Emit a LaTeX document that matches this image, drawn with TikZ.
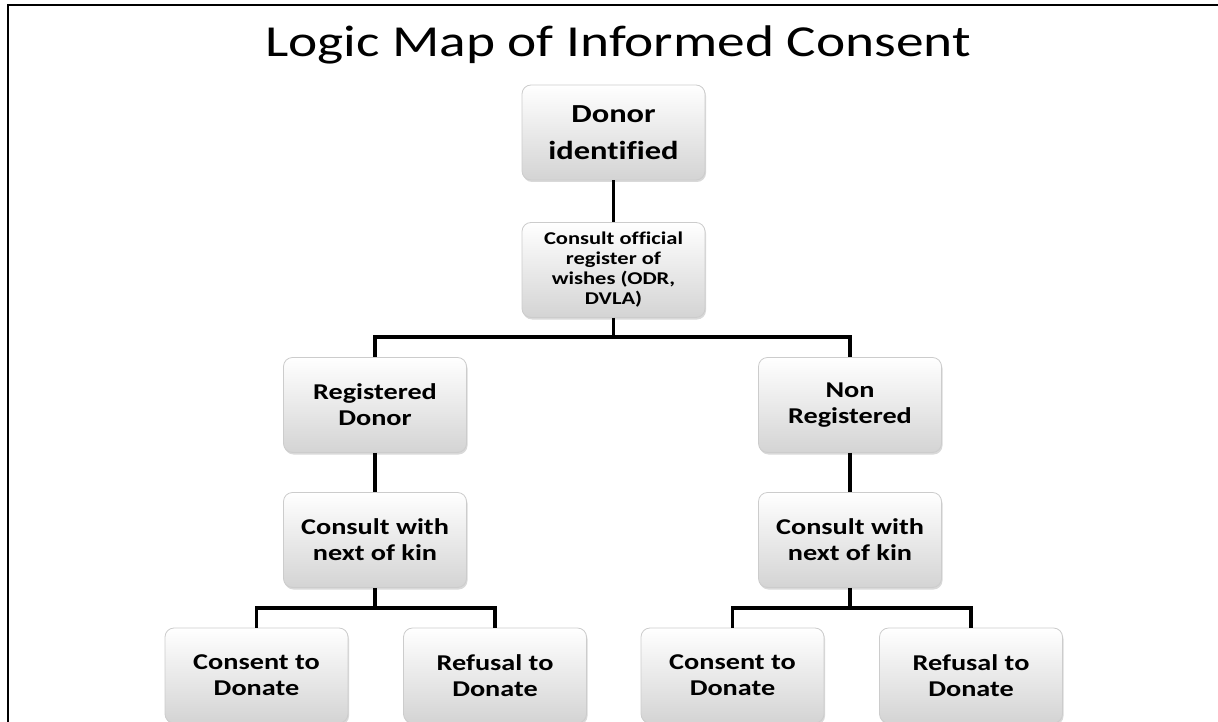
\documentclass[tikz,border=0pt]{standalone}
\usepackage{fontspec}
\setmainfont{Carlito}[FakeStretch=1.25, Ligatures=NoCommon]
\usetikzlibrary{shadows}
\tikzset{
	box/.style={rounded corners=9pt, minimum width=183pt, minimum height=95pt, inner sep=0pt, align=center,
		top color=white, middle color=gray!8, bottom color=gray!34, draw=gray!40, line width=0.8pt,
		drop shadow={opacity=0.3, shadow xshift=1pt, shadow yshift=-2pt}},
	txtbig/.style={font=\bfseries\fontsize{26}{37}\selectfont},
	txtmid/.style={font=\bfseries\fontsize{22.6}{26}\selectfont},
	txtsmall/.style={font=\bfseries\fontsize{18}{20}\selectfont},
	link/.style={line width=3.4pt},
}
\begin{document}
\begin{tikzpicture}[x=1pt,y=-1pt]
			\useasboundingbox (0,0) rectangle (1218,722);
			\draw [line width=2.5pt] (8,722) -- (8,5) -- (1218,5);
			\node [anchor=base, font=\fontsize{44.3}{50}\selectfont] (title) at (618,57) {Logic Map of Informed Consent};
			% top of the tree
			\node [box, txtbig] (donor) at (613.5,132.5) {Donor\\identified};
			\node [box, txtsmall] (odr) at (613.5,270) {Consult official\\register of\\wishes (ODR,\\DVLA)};
			\coordinate (split) at (613.5,337);
			% two branches
			\node [box, txtmid] (reg) at (375,405) {Registered\\Donor};
			\node [box, txtmid] (nonreg) at (850,405) {Non\\Registered};
			\node [box, txtmid] (kinL) at (375,540) {Consult with\\next of kin};
			\node [box, txtmid] (kinR) at (850,540) {Consult with\\next of kin};
			\coordinate (splitL) at (375,608);
			\coordinate (splitR) at (850,608);
			\node [box, txtmid] (yesL) at (256.5,675.5) {Consent to\\Donate};
			\node [box, txtmid] (noL) at (495,675.5) {Refusal to\\Donate};
			\node [box, txtmid] (yesR) at (732.5,675.5) {Consent to\\Donate};
			\node [box, txtmid] (noR) at (971,675.5) {Refusal to\\Donate};
			\draw [link] (donor) to (odr);
			\draw [link] (odr) to (split);
			\draw [link] (split) -| (reg);
			\draw [link] (split) -| (nonreg);
			\draw [link] (reg) to (kinL);
			\draw [link] (nonreg) to (kinR);
			\draw [link] (kinL) to (splitL);
			\draw [link] (splitL) -| (yesL);
			\draw [link] (splitL) -| (noL);
			\draw [link] (kinR) to (splitR);
			\draw [link] (splitR) -| (yesR);
			\draw [link] (splitR) -| (noR);
		\end{tikzpicture}
\end{document}
